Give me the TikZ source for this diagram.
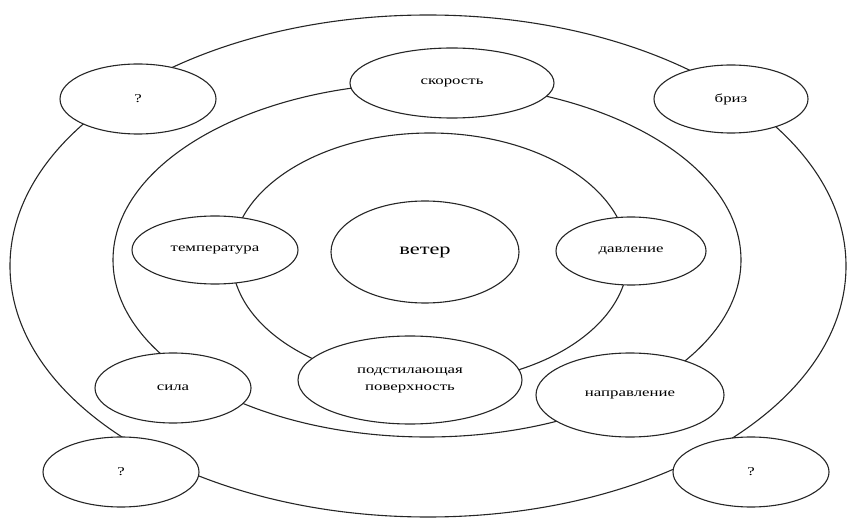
\documentclass[tikz,border=0pt]{standalone}
\usepackage{fontspec}
\setmainfont{Liberation Serif}[FakeStretch=1.4]
\usetikzlibrary{shapes.geometric}
\begin{document}
\begin{tikzpicture}[x=1pt,y=-1pt,
  ring/.style={draw=black!85, line width=1.1pt},
  bubble/.style={ellipse, draw=black!85, line width=1.1pt, fill=white, inner sep=0pt,
    align=center, font=\fontsize{12}{17}\selectfont},
]
\useasboundingbox (0,0) rectangle (851,518);
% rings
\draw[ring] (428,266) ellipse [x radius=418pt, y radius=251pt];
\draw[ring] (427,260) ellipse [x radius=314pt, y radius=177pt];
\draw[ring] (430,258) ellipse [x radius=198pt, y radius=125pt];
% nodes
\node[bubble, minimum width=156pt, minimum height=70pt] (q1) at (138,99) {?};
\node[bubble, minimum width=204pt, minimum height=70pt] (speed) at (452,83) {скорость};
\node[bubble, minimum width=154pt, minimum height=68pt] (breeze) at (731,99) {бриз};
\node[bubble, minimum width=188pt, minimum height=102pt, font=\fontsize{16}{18}\selectfont] (wind) at (425,252) {ветер};
\node[bubble, minimum width=166pt, minimum height=68pt] (temp) at (215,250) {температура};
\node[bubble, minimum width=150pt, minimum height=68pt] (press) at (631,251) {давление};
\node[bubble, minimum width=156pt, minimum height=70pt] (force) at (173,388) {сила};
\node[bubble, minimum width=224pt, minimum height=88pt] (surf) at (410,380) {подстилающая\\поверхность};
\node[bubble, minimum width=188pt, minimum height=84pt] (dir) at (630,395) {\raisebox{-6pt}{направление}};
\node[bubble, minimum width=156pt, minimum height=70pt] (q2) at (121,472) {?};
\node[bubble, minimum width=156pt, minimum height=70pt] (q3) at (751,472) {?};
\end{tikzpicture}
\end{document}
